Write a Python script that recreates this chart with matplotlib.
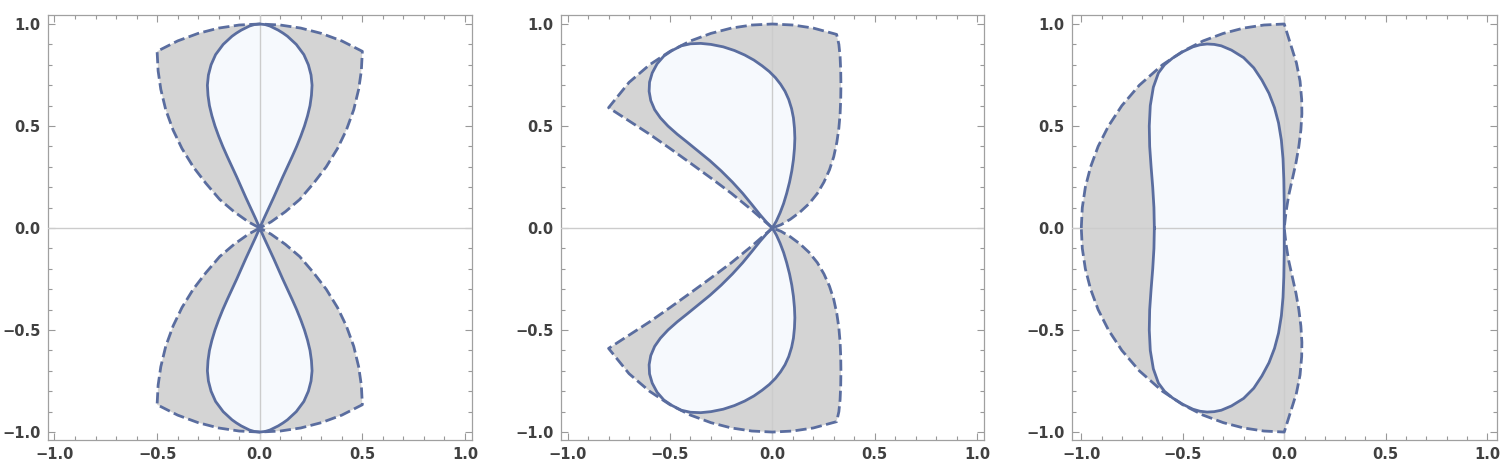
import matplotlib
matplotlib.use("Agg")
import matplotlib.pyplot as plt
from matplotlib.ticker import MultipleLocator, FuncFormatter
import numpy as np

# Colours.
line_color = "#5a6d9f"
outer_fill = "#d4d4d4"
inner_fill = "#f6f9fd"
axis_color = "#cccccc"

# Upper halves of each curve (x, y).
# The lower halves are the mirror image in y = 0.

# Panel 1, outer (dashed): left side, unit arc, right side.
p1_outer_x = [0.0, -0.055, -0.125, -0.195, -0.263, -0.324, -0.379, -0.422, -0.458, -0.482, -0.495, -0.5,
              -0.4, -0.3, -0.2, -0.1, 0.0, 0.1, 0.2, 0.3, 0.4,
              0.5, 0.495, 0.482, 0.458, 0.422, 0.379, 0.324, 0.263, 0.195, 0.125, 0.055, 0.0]
p1_outer_y = [0.0, 0.03, 0.08, 0.14, 0.22, 0.30, 0.39, 0.48, 0.58, 0.68, 0.77, 0.866,
              0.917, 0.954, 0.980, 0.995, 1.0, 0.995, 0.980, 0.954, 0.917,
              0.866, 0.77, 0.68, 0.58, 0.48, 0.39, 0.30, 0.22, 0.14, 0.08, 0.03, 0.0]

# Panel 1, inner (solid) lobe.
p1_inner_x = [0.0, 0.022, 0.045, 0.068, 0.09, 0.112, 0.135, 0.158, 0.18, 0.2, 0.218, 0.233, 0.245,
              0.252, 0.255, 0.25, 0.237, 0.215, 0.178, 0.135, 0.114, 0.09, 0.07, 0.05, 0.027, 0.0,
              -0.027, -0.05, -0.07, -0.09, -0.114, -0.135, -0.178, -0.215, -0.237, -0.25, -0.255,
              -0.252, -0.245, -0.233, -0.218, -0.2, -0.18, -0.158, -0.135, -0.112, -0.09,
              -0.068, -0.045, -0.022, 0.0]
p1_inner_y = [0.0, 0.05, 0.1, 0.15, 0.2, 0.25, 0.3, 0.35, 0.4, 0.45, 0.5, 0.55, 0.6,
              0.65, 0.7, 0.75, 0.8, 0.85, 0.9, 0.94, 0.955, 0.97, 0.98, 0.99, 0.997, 1.0,
              0.997, 0.99, 0.98, 0.97, 0.955, 0.94, 0.9, 0.85, 0.8, 0.75, 0.7,
              0.65, 0.6, 0.55, 0.5, 0.45, 0.4, 0.35, 0.3, 0.25, 0.2,
              0.15, 0.1, 0.05, 0.0]

# Panel 2, outer (dashed): lower-left edge, unit arc, right side.
p2_outer_x = [0.0, -0.1, -0.2, -0.3, -0.4, -0.5, -0.6, -0.7, -0.8,
              -0.7, -0.6, -0.5, -0.4, -0.3, -0.2, -0.1, 0.0, 0.1, 0.2, 0.314,
              0.325, 0.331, 0.334, 0.335, 0.334, 0.331, 0.325, 0.315, 0.3, 0.279, 0.252,
              0.22, 0.18, 0.135, 0.088, 0.042, 0.0]
p2_outer_y = [0.0, 0.088, 0.17, 0.245, 0.318, 0.39, 0.46, 0.525, 0.59,
              0.714, 0.8, 0.866, 0.917, 0.954, 0.98, 0.995, 1.0, 0.995, 0.98, 0.949,
              0.9, 0.84, 0.77, 0.7, 0.63, 0.56, 0.49, 0.42, 0.35, 0.285, 0.225,
              0.17, 0.12, 0.078, 0.043, 0.016, 0.0]

# Panel 2, inner (solid) lobe.
p2_inner_x = [0.0, 0.02, 0.038, 0.055, 0.07, 0.084, 0.095, 0.103, 0.108, 0.11, 0.108, 0.103,
              0.094, 0.08, 0.062, 0.04, 0.015, -0.015, -0.05, -0.09, -0.135, -0.185, -0.24,
              -0.3, -0.35, -0.4, -0.445, -0.49, -0.53, -0.563, -0.587, -0.6, -0.602, -0.594,
              -0.575, -0.547, -0.51, -0.465, -0.415, -0.36, -0.305, -0.25, -0.195, -0.145,
              -0.1, -0.06, -0.028, 0.0]
p2_inner_y = [0.0, 0.035, 0.075, 0.12, 0.17, 0.225, 0.28, 0.335, 0.39, 0.44, 0.49, 0.54,
              0.585, 0.63, 0.67, 0.705, 0.737, 0.767, 0.795, 0.823, 0.848, 0.87, 0.888,
              0.9, 0.905, 0.903, 0.893, 0.87, 0.843, 0.805, 0.76, 0.715, 0.67, 0.625,
              0.58, 0.54, 0.5, 0.46, 0.42, 0.375, 0.33, 0.28, 0.225, 0.17,
              0.115, 0.065, 0.028, 0.0]

# Panel 3, outer (dashed): unit arc on the left, bulge on the right.
p3_outer_x = [-1.0, -0.995, -0.98, -0.954, -0.917, -0.866, -0.8, -0.714, -0.6, -0.5, -0.4,
              -0.3, -0.2, -0.1, 0.0,
              0.03, 0.06, 0.078, 0.086, 0.087, 0.082, 0.072, 0.058, 0.04, 0.022, 0.009, 0.0]
p3_outer_y = [0.0, 0.1, 0.2, 0.3, 0.4, 0.5, 0.6, 0.7, 0.8, 0.866, 0.917,
              0.954, 0.98, 0.995, 1.0,
              0.905, 0.81, 0.72, 0.63, 0.56, 0.48, 0.40, 0.32, 0.24, 0.16, 0.08, 0.0]

# Panel 3, inner (solid) bean.
p3_inner_x = [-0.64, -0.642, -0.648, -0.656, -0.663, -0.665, -0.66, -0.645, -0.62, -0.59, -0.55,
              -0.5, -0.45, -0.415, -0.38, -0.345, -0.31, -0.26, -0.2, -0.15, -0.11, -0.075,
              -0.048, -0.028, -0.014, -0.006, -0.002, 0.0, 0.0]
p3_inner_y = [0.0, 0.1, 0.2, 0.3, 0.4, 0.5, 0.6, 0.69, 0.76, 0.80, 0.833,
              0.864, 0.888, 0.898, 0.902, 0.9, 0.893, 0.872, 0.835, 0.785, 0.725, 0.66,
              0.59, 0.515, 0.43, 0.34, 0.24, 0.12, 0.0]

panels = [
    (p1_outer_x, p1_outer_y, p1_inner_x, p1_inner_y, True),
    (p2_outer_x, p2_outer_y, p2_inner_x, p2_inner_y, True),
    (p3_outer_x, p3_outer_y, p3_inner_x, p3_inner_y, False),
]

# Axes boxes (figure fractions) and x limits.
boxes = [[0.0318, 0.0658, 0.2827, 0.9023],
         [0.3738, 0.0658, 0.2822, 0.9023],
         [0.7145, 0.0658, 0.2833, 0.9023]]
xlims = [1.033, 1.034, 1.047]


def tick_fmt(v, pos):
    s = "%.1f" % v
    if s == "-0.0":
        s = "0.0"
    return s.replace("-", "\u2212")


fig = plt.figure(figsize=(15, 4.71), dpi=100)

for box, xl, (ox, oy, ix, iy, split) in zip(boxes, xlims, panels):
    ax = fig.add_axes(box)
    ox = np.array(ox)
    oy = np.array(oy)
    ix = np.array(ix)
    iy = np.array(iy)
    # Whole outer boundary: upper half then mirrored lower half.
    fx = np.concatenate([ox, ox[::-1]])
    fy = np.concatenate([oy, -oy[::-1]])
    ax.fill(fx, fy, color=outer_fill, lw=0, zorder=1)

    if split:
        # Two lobes meeting at the origin.
        loops = [(ix, iy), (ix, -iy)]
    else:
        loops = [(np.concatenate([ix, ix[::-1]]), np.concatenate([iy, -iy[::-1]]))]
    for lx, ly in loops:
        ax.fill(lx, ly, color=inner_fill, lw=0, zorder=2)

    # Axis lines through zero.
    ax.axhline(0, color=axis_color, lw=1.0, zorder=3)
    ax.axvline(0, color=axis_color, lw=1.0, zorder=3)

    # Curves.
    ax.plot(fx, fy, color=line_color, lw=2.0, ls=(0, (4, 1.6)), zorder=4)
    for lx, ly in loops:
        ax.plot(lx, ly, color=line_color, lw=2.0, zorder=5, solid_joinstyle="round")

    ax.set_xlim(-xl, xl)
    ax.set_ylim(-1.039, 1.044)

    ax.xaxis.set_major_locator(MultipleLocator(0.5))
    ax.yaxis.set_major_locator(MultipleLocator(0.5))
    ax.xaxis.set_minor_locator(MultipleLocator(0.1))
    ax.yaxis.set_minor_locator(MultipleLocator(0.1))
    ax.xaxis.set_major_formatter(FuncFormatter(tick_fmt))
    ax.yaxis.set_major_formatter(FuncFormatter(tick_fmt))
    ax.tick_params(which="both", direction="in", top=True, right=True, color="#999999", width=0.8)
    ax.tick_params(which="major", length=5, pad=5, labelsize=10.5, labelcolor="#404040")
    ax.tick_params(which="minor", length=2.6)
    for lab in ax.get_xticklabels() + ax.get_yticklabels():
        lab.set_fontweight("bold")
    for sp in ax.spines.values():
        sp.set_color("#a0a0a0")
        sp.set_linewidth(0.9)

fig.savefig("out.png", dpi=100)
